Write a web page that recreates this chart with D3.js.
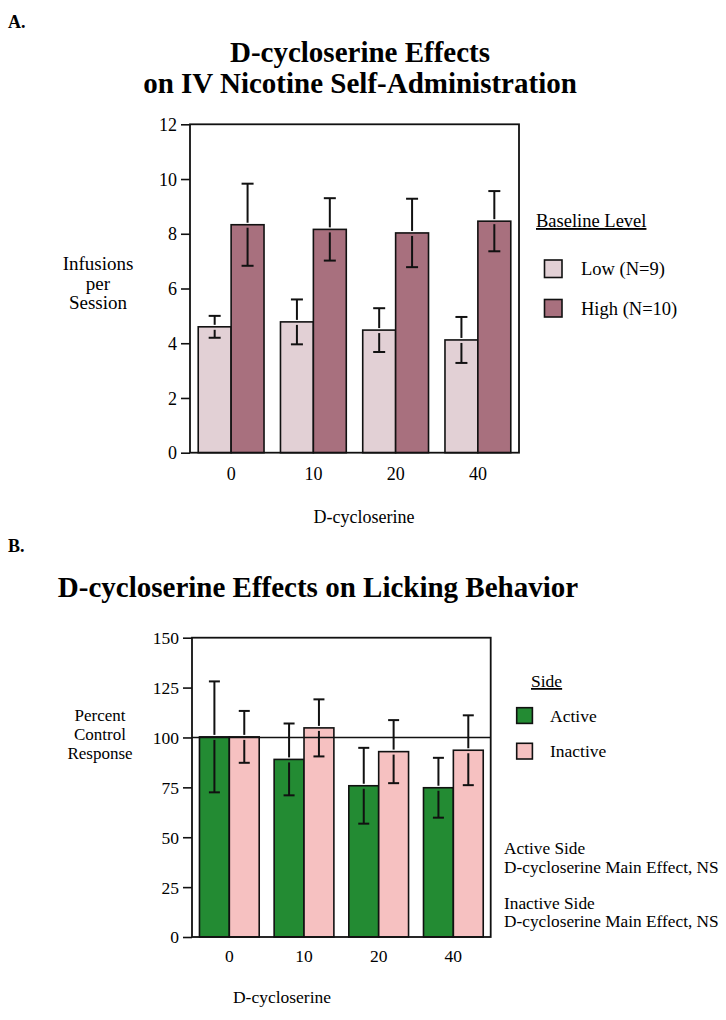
<!DOCTYPE html>
<html>
<head>
<meta charset="utf-8">
<script src="https://cdn.jsdelivr.net/npm/d3@7"></script>
<style>
  html, body { margin: 0; padding: 0; background: #fff; }
  svg text { font-family: "Liberation Serif", "Times New Roman", serif; fill: #000; }
</style>
</head>
<body>
<svg id="chart" width="726" height="1020"></svg>
<script>
// ---------- data ----------
const doses = ["0", "10", "20", "40"];

// Panel A: infusions per session
const aSeries = ["Low (N=9)", "High (N=10)"];
const aLow = [4.6, 4.78, 4.48, 4.12];
const aLowErr = [0.4, 0.82, 0.8, 0.84];
const aHigh = [8.33, 8.16, 8.03, 8.46];
const aHighErr = [1.5, 1.14, 1.25, 1.1];
const aTicks = [0, 2, 4, 6, 8, 10, 12];

// Panel B: percent control response
const bSeries = ["Active", "Inactive"];
const bActive = [100.3, 89, 75.8, 74.8];
const bActiveErr = [27.8, 18, 19, 15];
const bInactive = [100.3, 104.8, 92.9, 93.6];
const bInactiveErr = [13, 14.3, 15.8, 17.5];
const bTicks = [0, 25, 50, 75, 100, 125, 150];
const bRefLine = 100;

// ---------- drawing ----------
const svg = d3.select("#chart");

function panel(cfg) {
  const g = svg.append("g");
  const x = d3.scaleBand().domain(doses).range([cfg.left, cfg.right]).paddingInner(0.2).paddingOuter(0.1);
  const xs = d3.scaleBand().domain(cfg.series).range([0, x.bandwidth()]);
  const y = d3.scaleLinear().domain(cfg.domain).range([cfg.bottom, cfg.top]);

  // bars
  cfg.series.forEach((s, si) => {
    const vals = cfg.values[si], errs = cfg.errors[si];
    const bars = g.append("g");
    doses.forEach((d, i) => {
      const bx = x(d) + xs(s);
      const bw = xs.bandwidth();
      bars.append("rect")
        .attr("x", bx).attr("y", y(vals[i]))
        .attr("width", bw).attr("height", y(0) - y(vals[i]))
        .attr("fill", cfg.colors[si]).attr("stroke", "#111").attr("stroke-width", 1.6);
      const cx = bx + bw / 2;
      const top = y(vals[i] + errs[i]), bot = y(vals[i] - errs[i]), bt = y(vals[i]);
      const eg = g.append("g").attr("stroke", "#111").attr("stroke-width", 2);
      eg.append("line").attr("x1", cx).attr("x2", cx).attr("y1", top).attr("y2", bt - 2);
      eg.append("line").attr("x1", cx).attr("x2", cx).attr("y1", bt + 3).attr("y2", bot);
      eg.append("line").attr("x1", cx - cfg.cap).attr("x2", cx + cfg.cap).attr("y1", top).attr("y2", top);
      eg.append("line").attr("x1", cx - cfg.cap).attr("x2", cx + cfg.cap).attr("y1", bot).attr("y2", bot);
    });
  });

  // reference line
  if (cfg.ref !== undefined) {
    g.append("line").attr("x1", cfg.left).attr("x2", cfg.right)
      .attr("y1", y(cfg.ref)).attr("y2", y(cfg.ref))
      .attr("stroke", "#111").attr("stroke-width", 1.6);
  }

  // frame
  g.append("rect").attr("x", cfg.left).attr("y", cfg.top)
    .attr("width", cfg.right - cfg.left).attr("height", cfg.bottom - cfg.top)
    .attr("fill", "none").attr("stroke", "#111").attr("stroke-width", 1.8);

  // y axis
  const ya = g.append("g").attr("transform", `translate(${cfg.left},0)`)
    .call(d3.axisLeft(y).tickValues(cfg.ticks).tickSize(9).tickPadding(cfg.tickPad).tickFormat(d3.format("d")));
  ya.select(".domain").remove();
  ya.selectAll(".tick line").attr("stroke", "#111").attr("stroke-width", 1.6);
  ya.selectAll(".tick text").attr("font-size", cfg.tickFont).attr("font-family", "Liberation Serif").attr("fill", "#000").attr("dy", "0.34em");

  // x labels
  doses.forEach(d => {
    g.append("text").attr("x", x(d) + x.bandwidth() / 2).attr("y", cfg.xLabelY)
      .attr("text-anchor", "middle").attr("font-size", cfg.tickFont).text(d);
  });
  g.append("text").attr("x", cfg.xTitleX).attr("y", cfg.xTitleY)
    .attr("text-anchor", "middle").attr("font-size", cfg.tickFont).text("D-cycloserine");

  // y title
  cfg.yTitle.forEach((t, i) => {
    g.append("text").attr("x", cfg.yTitleX).attr("y", cfg.yTitleY + i * cfg.yTitleGap)
      .attr("text-anchor", "middle").attr("font-size", cfg.yTitleFont).text(t);
  });

  // legend
  const lg = g.append("g");
  lg.append("text").attr("x", cfg.legX).attr("y", cfg.legTitleY)
    .attr("font-size", cfg.legFont).attr("text-decoration", "underline").text(cfg.legTitle);
  cfg.series.forEach((s, si) => {
    const sy = cfg.legY0 + si * cfg.legGap;
    lg.append("rect").attr("x", cfg.swX).attr("y", sy).attr("width", cfg.sw).attr("height", cfg.sw)
      .attr("fill", cfg.colors[si]).attr("stroke", "#111").attr("stroke-width", 1.6);
    lg.append("text").attr("x", cfg.legTextX).attr("y", sy + cfg.sw / 2).attr("dy", "0.35em")
      .attr("font-size", cfg.legFont).text(s);
  });
}

// Panel labels and titles
svg.append("text").attr("x", 8).attr("y", 28).attr("font-size", 18).attr("font-weight", "bold").text("A.");
svg.append("text").attr("x", 360).attr("y", 62).attr("text-anchor", "middle").attr("font-size", 29).attr("font-weight", "bold").text("D-cycloserine Effects");
svg.append("text").attr("x", 360).attr("y", 93).attr("text-anchor", "middle").attr("font-size", 29).attr("font-weight", "bold").text("on IV Nicotine Self-Administration");

svg.append("text").attr("x", 8).attr("y", 552).attr("font-size", 18).attr("font-weight", "bold").text("B.");
svg.append("text").attr("x", 318).attr("y", 597).attr("text-anchor", "middle").attr("font-size", 29).attr("font-weight", "bold").text("D-cycloserine Effects on Licking Behavior");

panel({
  left: 190, right: 519, top: 124.3, bottom: 452.7,
  domain: [0, 12], ticks: aTicks, tickFont: 18, tickPad: 4, cap: 6,
  series: aSeries, values: [aLow, aHigh], errors: [aLowErr, aHighErr],
  colors: ["#e2d0d5", "#a8707e"],
  xLabelY: 480, xTitleX: 364, xTitleY: 523,
  yTitle: ["Infusions", "per", "Session"], yTitleX: 98, yTitleY: 270, yTitleGap: 19.5, yTitleFont: 19,
  legX: 536, legTitle: "Baseline Level", legTitleY: 227, legFont: 18.5,
  swX: 544.5, sw: 17.5, legY0: 260, legGap: 39.5, legTextX: 581
});

panel({
  left: 192, right: 490.7, top: 637.7, bottom: 937,
  domain: [0, 150], ticks: bTicks, tickFont: 17.5, tickPad: 4, cap: 5.5,
  series: bSeries, values: [bActive, bInactive], errors: [bActiveErr, bInactiveErr],
  colors: ["#238b33", "#f6c1c1"], ref: bRefLine,
  xLabelY: 962, xTitleX: 282, xTitleY: 1003,
  yTitle: ["Percent", "Control", "Response"], yTitleX: 100, yTitleY: 721, yTitleGap: 19, yTitleFont: 17,
  legX: 531, legTitle: "Side", legTitleY: 687, legFont: 17.5,
  swX: 516.7, sw: 15.7, legY0: 707.7, legGap: 35.6, legTextX: 550
});

// annotations in panel B
const notes = [
  ["Active Side", 854], ["D-cycloserine Main Effect, NS", 872.5],
  ["Inactive Side", 908.5], ["D-cycloserine Main Effect, NS", 926.5]
];
notes.forEach(([t, yy]) => {
  svg.append("text").attr("x", 504).attr("y", yy).attr("font-size", 17.3).text(t);
});
</script>
</body>
</html>
